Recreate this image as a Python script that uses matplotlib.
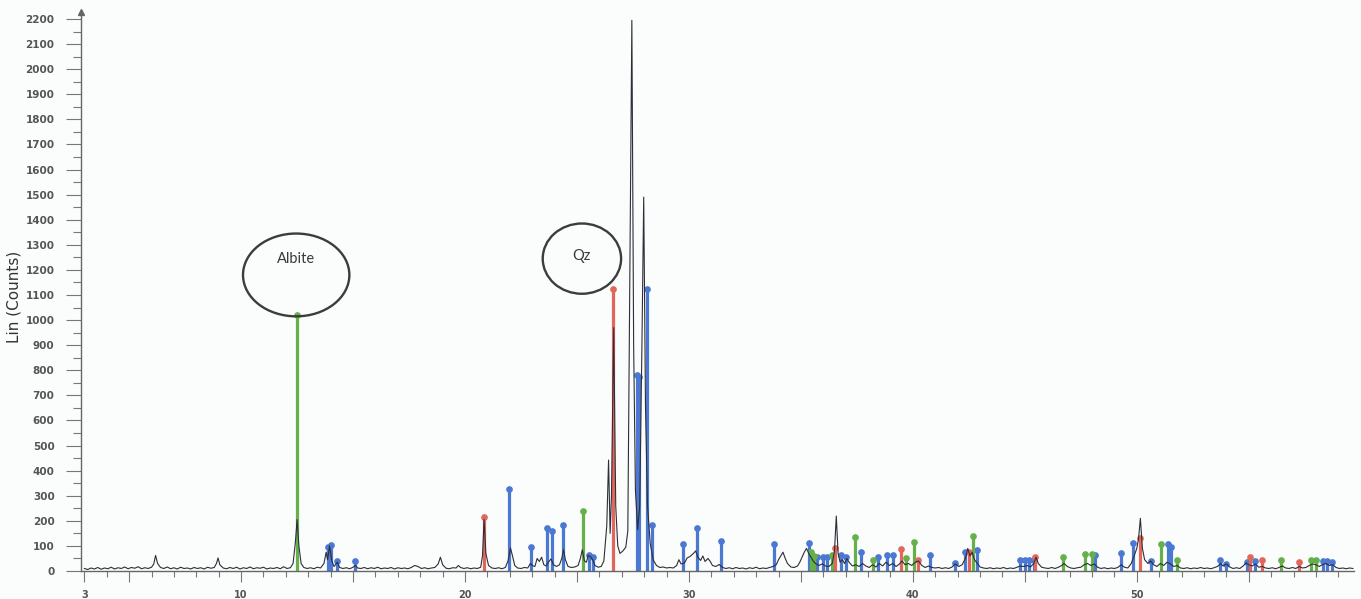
import numpy as np
import matplotlib
matplotlib.use("Agg")
import matplotlib.pyplot as plt
from matplotlib.patches import Ellipse
from matplotlib.ticker import FixedLocator, MultipleLocator

# Measured diffractogram, (2-theta, counts)
pattern = [
    (3.0, 10), (3.15, 6), (3.3, 12), (3.45, 8), (3.6, 14), (3.75, 7), (3.9, 12), (4.05, 9), (4.2, 15), (4.35, 8),
    (4.5, 13), (4.65, 10), (4.8, 16), (4.95, 9), (5.1, 14), (5.25, 11), (5.4, 17), (5.55, 9), (5.7, 13), (5.85, 10),
    (6.0, 15), (6.1, 28), (6.18, 62), (6.27, 30), (6.4, 14), (6.55, 10), (6.7, 16), (6.85, 9), (7.0, 13), (7.15, 8),
    (7.3, 15), (7.45, 10), (7.6, 12), (7.75, 8), (7.9, 14), (8.05, 10), (8.2, 13), (8.35, 8), (8.5, 15), (8.65, 11),
    (8.8, 14), (8.9, 30), (8.97, 52), (9.05, 25), (9.2, 12), (9.35, 9), (9.5, 14), (9.65, 10), (9.8, 15), (9.95, 8),
    (10.1, 13), (10.25, 10), (10.4, 16), (10.55, 9), (10.7, 13), (10.85, 11), (11.0, 15), (11.15, 8), (11.3, 12),
    (11.45, 10), (11.6, 14), (11.75, 9), (11.9, 17), (12.05, 10), (12.2, 13), (12.32, 30), (12.42, 110), (12.5, 205),
    (12.58, 100), (12.68, 30), (12.8, 14), (12.95, 10), (13.1, 13), (13.25, 9), (13.4, 15), (13.55, 12), (13.7, 30),
    (13.8, 75), (13.86, 45), (13.95, 100), (14.05, 40), (14.15, 18), (14.3, 35), (14.4, 14), (14.55, 10), (14.7, 13),
    (14.85, 9), (15.0, 15), (15.1, 22), (15.2, 12), (15.35, 10), (15.5, 14), (15.65, 9), (15.8, 13), (15.95, 10),
    (16.1, 15), (16.25, 9), (16.4, 12), (16.55, 10), (16.7, 14), (16.85, 8), (17.0, 13), (17.15, 10), (17.3, 12),
    (17.45, 9), (17.6, 14), (17.75, 22), (17.9, 18), (18.05, 10), (18.2, 13), (18.35, 9), (18.5, 12), (18.65, 14),
    (18.8, 28), (18.9, 55), (19.0, 25), (19.15, 11), (19.3, 9), (19.45, 13), (19.6, 12), (19.7, 22), (19.8, 14),
    (19.95, 10), (20.1, 13), (20.25, 9), (20.4, 12), (20.55, 10), (20.7, 15),
    (20.78, 60), (20.85, 205), (20.93, 70), (21.05, 22), (21.2, 12), (21.35, 10), (21.5, 13), (21.65, 9), (21.8, 14),
    (21.92, 40), (22.03, 92), (22.12, 60), (22.22, 22), (22.35, 12), (22.5, 10), (22.65, 14), (22.8, 12), (22.92, 30),
    (23.0, 22), (23.12, 18), (23.22, 50), (23.32, 38), (23.42, 55), (23.52, 25), (23.62, 20), (23.72, 35), (23.84, 48),
    (23.95, 25), (24.08, 18), (24.22, 25), (24.32, 50), (24.4, 85), (24.48, 45), (24.6, 18), (24.75, 14), (24.9, 16),
    (25.05, 22), (25.15, 50), (25.24, 85), (25.33, 40), (25.42, 35), (25.5, 62), (25.6, 58), (25.7, 45), (25.8, 22),
    (25.95, 15), (26.08, 18), (26.2, 40), (26.33, 180), (26.41, 442), (26.48, 150), (26.54, 300), (26.64, 970),
    (26.73, 260), (26.82, 100), (26.92, 70), (27.05, 80), (27.18, 95), (27.27, 160), (27.36, 1200), (27.45, 2195),
    (27.53, 900), (27.61, 320), (27.71, 165), (27.8, 260), (27.9, 900), (27.98, 1490), (28.06, 650), (28.15, 260),
    (28.27, 110), (28.4, 45), (28.55, 22), (28.7, 14), (28.85, 16), (29.0, 12), (29.15, 14), (29.3, 12), (29.45, 22),
    (29.55, 45), (29.65, 28), (29.8, 32), (29.92, 52), (30.05, 58), (30.2, 70), (30.3, 80), (30.4, 55), (30.52, 42),
    (30.62, 60), (30.72, 38), (30.85, 50), (30.95, 38), (31.05, 22), (31.2, 18), (31.35, 26), (31.5, 14), (31.65, 10),
    (31.8, 13), (31.95, 9), (32.1, 14), (32.25, 10), (32.4, 12), (32.55, 8), (32.7, 13), (32.85, 10), (33.0, 15),
    (33.15, 9), (33.3, 12), (33.45, 10), (33.6, 14), (33.75, 18), (33.9, 25), (34.0, 45), (34.1, 60), (34.2, 75),
    (34.3, 50), (34.4, 30), (34.55, 16), (34.7, 14), (34.85, 20), (34.95, 35), (35.05, 55), (35.15, 75), (35.25, 90),
    (35.35, 70), (35.45, 55), (35.55, 40), (35.65, 30), (35.8, 22), (35.95, 28), (36.1, 20), (36.25, 18), (36.4, 30),
    (36.5, 80), (36.58, 219), (36.66, 70), (36.75, 35), (36.85, 45), (36.95, 30), (37.05, 50), (37.15, 35), (37.3, 20),
    (37.45, 25), (37.6, 18), (37.75, 30), (37.9, 20), (38.05, 14), (38.2, 25), (38.35, 16), (38.5, 30), (38.65, 20),
    (38.8, 35), (38.95, 22), (39.1, 30), (39.25, 18), (39.4, 28), (39.52, 40), (39.65, 25), (39.8, 30), (39.95, 22),
    (40.1, 35), (40.25, 40), (40.4, 22), (40.55, 14), (40.7, 20), (40.85, 14), (41.0, 12), (41.15, 14), (41.3, 10),
    (41.45, 13), (41.6, 10), (41.75, 16), (41.9, 28), (42.05, 18), (42.2, 25), (42.35, 50), (42.45, 90), (42.55, 60),
    (42.65, 75), (42.75, 45), (42.88, 30), (43.0, 16), (43.15, 12), (43.3, 10), (43.45, 13), (43.6, 9), (43.75, 12),
    (43.9, 10), (44.05, 14), (44.2, 9), (44.35, 12), (44.5, 10), (44.65, 15), (44.8, 20), (44.95, 18), (45.1, 22),
    (45.25, 16), (45.4, 30), (45.5, 55), (45.6, 30), (45.75, 15),
    (45.9, 12), (46.05, 10), (46.2, 14), (46.35, 10), (46.5, 15), (46.65, 22), (46.75, 30), (46.9, 18), (47.05, 12),
    (47.2, 10), (47.35, 13), (47.5, 15), (47.65, 25), (47.8, 30), (47.95, 22), (48.1, 28), (48.25, 15), (48.4, 10),
    (48.55, 13), (48.7, 9), (48.85, 12), (49.0, 10), (49.15, 14), (49.3, 25), (49.45, 15), (49.6, 12), (49.75, 30),
    (49.88, 60), (50.0, 90), (50.08, 130), (50.16, 210), (50.25, 90), (50.35, 45), (50.5, 30), (50.62, 40), (50.75, 25),
    (50.9, 18), (51.05, 30), (51.2, 22), (51.35, 35), (51.5, 28), (51.65, 18), (51.8, 22), (51.95, 12), (52.1, 10),
    (52.25, 13), (52.4, 9), (52.55, 12), (52.7, 10), (52.85, 14), (53.0, 10), (53.15, 12), (53.3, 9), (53.45, 13),
    (53.6, 18), (53.75, 30), (53.85, 20), (54.0, 28), (54.15, 16), (54.3, 10), (54.45, 13), (54.6, 10), (54.75, 20),
    (54.88, 32), (55.0, 25), (55.15, 20), (55.3, 28), (55.45, 15), (55.6, 18), (55.75, 12), (55.9, 10), (56.05, 13),
    (56.2, 9), (56.35, 14), (56.5, 20), (56.65, 12), (56.8, 10), (56.95, 14), (57.1, 10), (57.25, 18), (57.4, 12),
    (57.55, 14), (57.7, 22), (57.85, 28), (58.0, 25), (58.15, 18), (58.3, 26), (58.45, 30), (58.6, 22), (58.75, 25),
    (58.9, 14), (59.05, 10), (59.2, 12), (59.35, 9), (59.5, 12), (59.65, 10),
]

# Reference stick patterns (2-theta, relative height in counts)
albite_2theta = [12.5, 25.25, 35.45, 35.6, 36.37, 37.41, 38.2, 39.7, 40.05, 42.68,
                 46.7, 47.7, 48.0, 51.1, 51.8, 56.45, 57.77, 57.99]
albite_counts = [1020, 240, 76, 60, 64, 137, 44, 52, 117, 140,
                 56, 68, 68, 107, 44, 44, 44, 44]

quartz_2theta = [20.85, 26.59, 36.52, 39.49, 40.22, 42.5, 45.45, 50.14, 55.05, 55.57, 57.25]
quartz_counts = [216, 1122, 92, 88, 44, 77, 56, 131, 56, 44, 35]

other_2theta = [13.9, 14.0, 14.3, 15.1, 21.98, 22.95, 23.67, 23.87, 24.39, 25.55, 25.7,
                27.66, 27.76, 28.11, 28.36, 29.73, 30.34, 31.41, 33.79, 35.36, 35.7, 35.97,
                36.15, 36.8, 37.0, 37.7, 38.44, 38.83, 39.1, 40.76, 41.87, 42.32, 42.86,
                44.8, 45.0, 45.2, 45.4, 48.12, 49.3, 49.82, 50.65, 51.38, 51.54, 53.7,
                54.0, 54.9, 55.27, 58.3, 58.5, 58.7]
other_counts = [95, 105, 40, 40, 326, 97, 170, 160, 183, 65, 55,
                780, 775, 1122, 183, 107, 172, 119, 107, 111, 57, 57,
                57, 64, 55, 77, 56, 64, 64, 64, 30, 77, 84,
                44, 44, 44, 44, 64, 72, 111, 40, 107, 97, 44,
                29, 35, 40, 40, 40, 35]

# Circled phase labels: text, centre (2-theta, counts), size, text height
label_text = ["Albite", "Qz"]
label_center = [(12.46, 1180), (25.22, 1245)]
label_size = [(4.75, 330), (3.5, 280)]
label_text_y = [1245, 1255]

fig = plt.figure(figsize=(13.61, 5.99), dpi=100, facecolor="#fbfcfc")
ax = fig.add_axes([81 / 1361, 28 / 599, 1273 / 1361, 559 / 599])
ax.set_facecolor("#fbfcfc")

# stick patterns
phases = [
    (other_2theta, other_counts, "#4a78d2"),
    (albite_2theta, albite_counts, "#66b04a"),
    (quartz_2theta, quartz_counts, "#e2675a"),
]
for pos, cnt, col in phases:
    ax.vlines(pos, 0, cnt, colors=col, linewidth=2.3, zorder=2)
    ax.plot(pos, cnt, linestyle="none", marker="o", markersize=3.8,
            color=col, zorder=2)

tt = np.array([p[0] for p in pattern])
counts = np.array([p[1] for p in pattern])
ax.plot(tt, counts, color="#2e2e38", linewidth=0.8, zorder=3)

for txt, (cx, cy), (w, h), ty in zip(label_text, label_center, label_size, label_text_y):
    ax.add_patch(Ellipse((cx, cy), w, h, facecolor="none", edgecolor="#3c3c3c",
                         linewidth=1.7, zorder=4))
    ax.text(cx, ty, txt, ha="center", va="center", fontsize=10.5,
            family="Lato", color="#3a3a3a", zorder=5)

ax.set_xlim(2.85, 59.7)
ax.set_ylim(0, 2228)

for side in ["top", "right"]:
    ax.spines[side].set_visible(False)
for side in ["left", "bottom"]:
    ax.spines[side].set_color("#666666")
    ax.spines[side].set_linewidth(1.0)

# arrow head on the y-axis
ax.plot([2.85], [2228], marker="^", markersize=5, color="#666666", clip_on=False)

ax.yaxis.set_major_locator(MultipleLocator(100))
ax.yaxis.set_minor_locator(MultipleLocator(50))
ax.tick_params(axis="y", which="major", length=11, width=0.8, color="#777777",
               labelsize=7.5, labelcolor="#555555", pad=8)
ax.tick_params(axis="y", which="minor", length=6, width=0.8, color="#777777")

x_major = [3, 5, 10, 15, 20, 25, 30, 35, 40, 45, 50, 55]
ax.xaxis.set_major_locator(FixedLocator(x_major))
ax.set_xticklabels([str(v) if v == 3 or v % 10 == 0 else "" for v in x_major])
ax.xaxis.set_minor_locator(MultipleLocator(1))
ax.tick_params(axis="x", which="major", length=8, width=0.8, color="#777777",
               labelsize=7, labelcolor="#555555", pad=6)
ax.tick_params(axis="x", which="minor", length=4, width=0.8, color="#777777")

for lab in ax.get_xticklabels() + ax.get_yticklabels():
    lab.set_fontweight("bold")

ax.set_ylabel("Lin (Counts)", fontsize=11, color="#333333", labelpad=10)
ax.yaxis.set_label_coords(-0.047, 0.49)

fig.savefig("out.png", dpi=100, facecolor=fig.get_facecolor())
